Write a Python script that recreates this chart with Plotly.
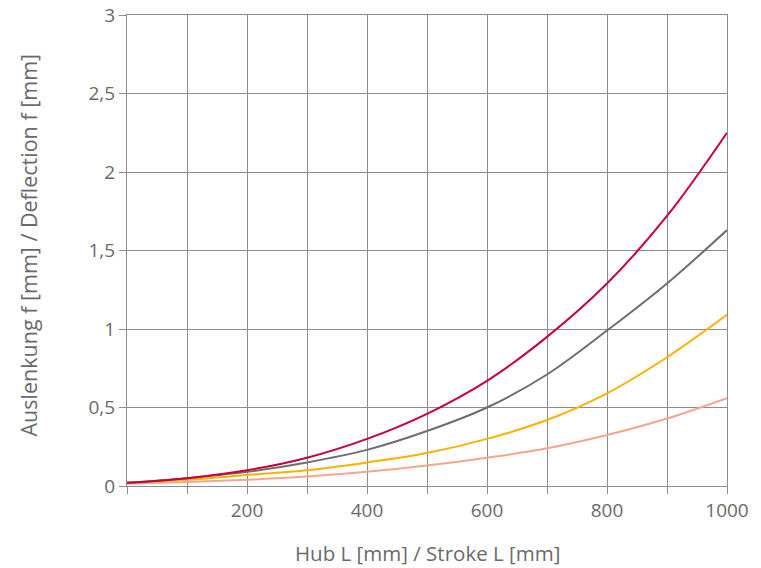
import plotly.graph_objects as go

stroke = [0, 100, 200, 300, 400, 500, 600, 700, 800, 900, 1000]
red = [0.02, 0.05, 0.10, 0.18, 0.30, 0.46, 0.67, 0.95, 1.29, 1.72, 2.25]
gray = [0.02, 0.05, 0.09, 0.15, 0.23, 0.35, 0.50, 0.71, 0.99, 1.29, 1.63]
orange = [0.02, 0.04, 0.07, 0.10, 0.15, 0.21, 0.30, 0.42, 0.59, 0.82, 1.09]
salmon = [0.015, 0.025, 0.04, 0.06, 0.09, 0.13, 0.18, 0.24, 0.325, 0.43, 0.56]

x_tickvals = [0, 100, 200, 300, 400, 500, 600, 700, 800, 900, 1000]
x_ticktext = ["", "", "200", "", "400", "", "600", "", "800", "", "1000"]
y_tickvals = [0, 0.5, 1, 1.5, 2, 2.5, 3]
y_ticktext = ["0", "0,5", "1", "1,5", "2", "2,5", "3"]

fig = go.Figure()
for ys, col in [(salmon, "#F4A58F"), (orange, "#FFB000"), (gray, "#6E6E6E"), (red, "#C8003A")]:
    fig.add_trace(go.Scatter(x=stroke, y=ys, mode="lines",
                             line=dict(color=col, width=2, shape="spline"),
                             showlegend=False, hoverinfo="skip"))

grid = "#8C8C8C"
txt = "#6A6A6A"
fig.update_layout(
    width=753, height=560,
    margin=dict(l=119, r=34, t=7, b=82, autoexpand=False),
    paper_bgcolor="white", plot_bgcolor="white",
    font=dict(family="Open Sans", size=19, color=txt),
)
common = dict(
    showgrid=True, gridcolor=grid, gridwidth=1.2,
    showline=True, linecolor=grid, linewidth=1.2, mirror=True,
    ticks="outside", ticklen=7, tickcolor=grid, tickwidth=1.2,
    tickfont=dict(size=19, color=txt), zeroline=False, automargin=False,
    ticklabeloverflow="allow",
)
fig.update_xaxes(range=[0, 1000], tickvals=x_tickvals, ticktext=x_ticktext, **common)
fig.update_yaxes(range=[0, 3], tickvals=y_tickvals, ticktext=y_ticktext, **common)

fig.add_annotation(text="Hub L [mm] / Stroke L [mm]", xref="paper", yref="paper",
                   x=0.5, y=0, xanchor="center", yanchor="middle", yshift=-67,
                   showarrow=False, font=dict(size=20.5, color=txt))
fig.add_annotation(text="Auslenkung f [mm] / Deflection f [mm]", xref="paper", yref="paper",
                   x=0, y=0.5, xanchor="center", yanchor="middle", xshift=-99, yshift=5,
                   textangle=-90, showarrow=False, font=dict(size=21.5, color=txt))
fig.write_html("out.html")
